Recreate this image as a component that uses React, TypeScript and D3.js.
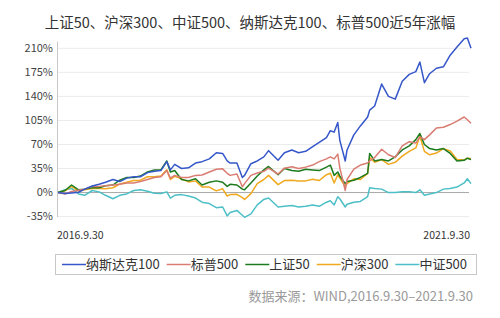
import React, { useEffect, useRef } from "react";
import * as d3 from "d3";

const dates = [
  "2016-09-30","2016-10-31","2016-11-29","2016-12-30",
  "2017-01-26","2017-02-28","2017-03-31","2017-04-28","2017-05-31","2017-06-30","2017-07-31","2017-08-31","2017-09-29","2017-10-31","2017-11-30","2017-12-29",
  "2018-01-24","2018-02-09","2018-02-28","2018-03-30","2018-04-30","2018-05-31","2018-06-29","2018-07-31","2018-08-31","2018-09-28","2018-10-18","2018-10-31","2018-11-30","2018-12-24",
  "2019-01-03","2019-01-31","2019-02-28","2019-03-29","2019-04-19","2019-05-31","2019-06-28","2019-07-31","2019-08-30","2019-09-30","2019-10-31","2019-11-29","2019-12-31",
  "2020-01-17","2020-02-03","2020-02-19","2020-02-28","2020-03-23","2020-03-31","2020-04-30","2020-05-29","2020-06-30","2020-07-09","2020-07-31","2020-08-31","2020-09-30","2020-10-30","2020-11-30","2020-12-31",
  "2021-01-29","2021-02-16","2021-03-08","2021-03-31","2021-04-30","2021-05-31","2021-06-30","2021-07-30","2021-08-31","2021-09-14","2021-09-30",
];

const nasdaq100 = [
  0, -1.5, -0.5, 0.5,
  5, 9.5, 12, 15, 19, 16, 21, 23, 23, 29, 31, 32,
  45, 33, 41, 35, 36, 43, 45, 49, 58, 57, 46, 43, 43, 22,
  25, 42, 46, 52, 61, 47, 58, 62, 58, 60, 67, 73, 80,
  90, 88, 102, 76, 46, 62, 84, 97, 110, 120, 126, 158, 140, 136, 162, 172,
  176, 190, 160, 173, 181, 183, 200, 212, 224, 225, 210,
];

const sp500 = [
  0, -2, 1.5, 3.5,
  5, 9, 9, 10, 11, 12, 14, 14, 16, 19, 22, 23,
  32, 21, 25, 22, 22, 25, 25.5, 30, 34, 34.5, 28, 25, 27, 8.5,
  13, 25, 28.5, 31, 35.5, 27, 35.5, 37.5, 35, 37, 40, 45, 49,
  52, 49, 56, 36, 3, 19, 34, 40, 43, 46, 51, 63, 55, 51, 68, 74,
  72, 81, 77, 84, 94, 95, 99, 104, 110, 106, 101,
];

const sse50 = [
  0, 3, 11, 4,
  5, 7, 7, 10, 11, 18, 22, 22, 24, 30, 33, 33,
  46, 30, 32, 19, 17, 20, 11, 15, 17, 15, 9, 12, 11, 5,
  4, 14, 24, 33, 38, 26, 35, 32, 31, 34, 33, 32, 37,
  40, 25, 30, 24, 13, 16, 18, 22, 28, 57, 46, 48, 46, 52, 62, 68,
  77, 86, 70, 64, 62, 64, 57, 46, 47, 50, 48,
];

const csi300 = [
  0, 2.5, 9, 2,
  4, 6, 6, 5.5, 7, 12.5, 15, 17.5, 18, 23, 23, 24,
  33, 19, 23.5, 20, 15.5, 17, 8, 8, 2.5, 5.5, -5, -3, -2.5, -7.5,
  -10, -1.5, 13, 19, 25, 11.5, 17.5, 18, 17, 17, 19.5, 17.5, 26,
  28, 14, 26, 21, 9, 13, 20, 19, 28, 51, 44, 48, 41, 44, 53, 60,
  65, 82, 60, 55, 57.5, 64, 60.5, 48, 47.5, 50, 49.5,
];

const csi500 = [
  0, 4, 6, -2,
  -4, 3, 1, -4, -9, -4, -2, 3, 4, 2, -1, -1.5,
  1, -8, -4, -3, -5, -8, -14, -16, -22, -21, -34, -29, -26, -33,
  -36, -31, -18, -10, -8, -21, -20, -19, -21, -20, -18, -20, -14,
  -12, -18, -6, -9, -21, -17, -14, -13, -6, 7, 6, 5, 0, 0, 1, 1,
  0, 4, -4, -2, 0, 5, 6, 8, 14, 20, 13,
];

const yTicks = [-35, 0, 35, 70, 105, 140, 175, 210];
const xLabels = ["2016.9.30", "2021.9.30"];
const seriesNames = ["纳斯达克100", "标普500", "上证50", "沪深300", "中证500"];
const seriesColors = ["#3557c9", "#d97c72", "#1d7a1d", "#f0a91f", "#4dbfc6"];
const titleText = "上证50、沪深300、中证500、纳斯达克100、标普500近5年涨幅";
const sourceText = "数据来源：WIND,2016.9.30–2021.9.30";

const FONT = "'Noto Sans CJK SC', 'Noto Sans', sans-serif";

export default function App() {
  const ref = useRef<SVGSVGElement>(null);

  useEffect(() => {
    const svg = d3.select(ref.current);
    svg.selectAll("*").remove();
    const W = 500, H = 318;
    svg.append("rect").attr("width", W).attr("height", H).attr("fill", "#fff");

    const parse = d3.timeParse("%Y-%m-%d");
    const t = dates.map((d) => parse(d) as Date);
    const x = d3.scaleTime().domain([t[0], t[t.length - 1]]).range([58, 471]);
    const y = d3.scaleLinear().domain([-35, 210]).range([216.6, 48.3]);

    // title
    svg.append("text")
      .attr("x", 250).attr("y", 28)
      .attr("text-anchor", "middle")
      .attr("font-family", FONT).attr("font-size", 14.5)
      .attr("fill", "#333").text(titleText);

    // grid
    const grid = svg.append("g");
    yTicks.forEach((v) => {
      grid.append("line")
        .attr("x1", 57).attr("x2", 469)
        .attr("y1", y(v)).attr("y2", y(v))
        .attr("stroke", v === 0 ? "#a8a8a8" : "#ebebeb")
        .attr("stroke-width", 1);
      grid.append("text")
        .attr("x", 53).attr("y", y(v))
        .attr("dy", "0.35em")
        .attr("text-anchor", "end")
        .attr("font-family", FONT).attr("font-size", 11)
        .attr("fill", "#444").text(`${v}%`);
    });
    // y axis line
    svg.append("line")
      .attr("x1", 57.5).attr("x2", 57.5)
      .attr("y1", 41.5).attr("y2", 217)
      .attr("stroke", "#c8c8c8").attr("stroke-width", 1);

    // x labels
    svg.append("text")
      .attr("x", x(t[0]) - 1).attr("y", 239)
      .attr("font-family", FONT).attr("font-size", 10.5)
      .attr("fill", "#333").text(xLabels[0]);
    svg.append("text")
      .attr("x", x(t[t.length - 1]) - 1).attr("y", 239)
      .attr("text-anchor", "end")
      .attr("font-family", FONT).attr("font-size", 10.5)
      .attr("fill", "#333").text(xLabels[1]);

    // lines
    const allSeries = [nasdaq100, sp500, sse50, csi300, csi500];
    const line = d3.line<number>()
      .x((_, i) => x(t[i]))
      .y((d) => y(d))
      .curve(d3.curveLinear);
    const order = [4, 3, 2, 1, 0];
    order.forEach((si) => {
      svg.append("path")
        .attr("d", line(allSeries[si]) as string)
        .attr("fill", "none")
        .attr("stroke", seriesColors[si])
        .attr("stroke-width", 1.5)
        .attr("stroke-linejoin", "round");
    });

    // legend
    const lg = svg.append("g");
    lg.append("rect")
      .attr("x", 55.5).attr("y", 254.5)
      .attr("width", 421).attr("height", 20)
      .attr("fill", "#fff").attr("stroke", "#c8c8c8");
    let cx = 62;
    seriesNames.forEach((name, i) => {
      lg.append("line")
        .attr("x1", cx).attr("x2", cx + 24)
        .attr("y1", 264.5).attr("y2", 264.5)
        .attr("stroke", seriesColors[i]).attr("stroke-width", 1.5);
      const tx = lg.append("text")
        .attr("x", cx + 24).attr("y", 264.5)
        .attr("dy", "0.35em")
        .attr("font-family", FONT).attr("font-size", 13)
        .attr("fill", "#333").text(name);
      const w = (tx.node() as SVGTextElement).getComputedTextLength();
      cx = cx + 24 + w + 7;
    });

    // source
    svg.append("text")
      .attr("x", 473).attr("y", 296)
      .attr("dy", "0.35em")
      .attr("text-anchor", "end")
      .attr("font-family", FONT).attr("font-size", 13)
      .attr("fill", "#9a9a9a").text(sourceText);
  }, []);

  return (
    <svg
      ref={ref}
      width={500}
      height={318}
      style={{ position: "fixed", left: 0, top: 0, display: "block" }}
    />
  );
}
